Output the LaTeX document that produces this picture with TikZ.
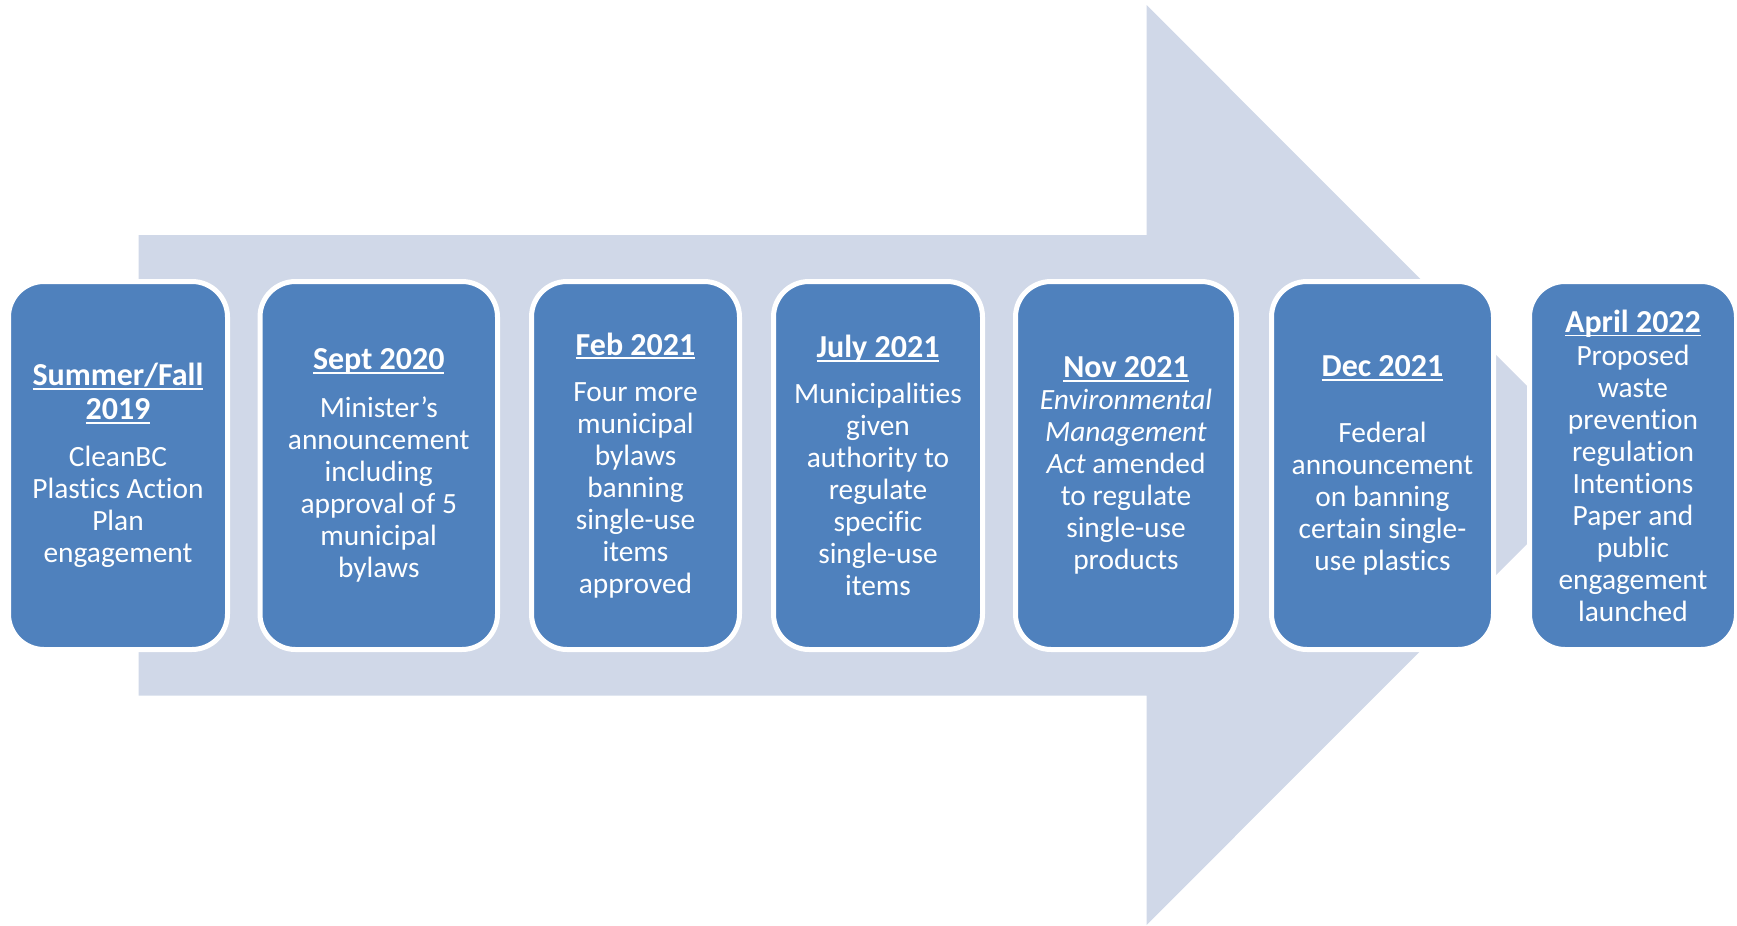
\documentclass[tikz,border=0pt]{standalone}
\usepackage{fontspec}
\setmainfont{Carlito}[Ligatures={NoCommon}]
\definecolor{boxblue}{HTML}{4F81BD}
\definecolor{arrowgray}{HTML}{D0D8E8}
\newcommand\hdul[1]{\setbox0\hbox{#1}\rlap{\rule[-2.1pt]{\wd0}{0.9pt}}\box0}
\newcommand\hd[1]{{\fontsize{16}{16}\selectfont\bfseries\hdul{#1}}}
\begin{document}
\begin{tikzpicture}[x=0.5pt,y=-0.5pt,
  box/.style={rectangle, rounded corners=17.75pt, fill=boxblue, draw=white,
    line width=2.5pt, text=white, align=center, inner sep=0pt,
    minimum height=184pt, font=\fontsize{14.7}{16}\selectfont}]
\useasboundingbox (0,0) rectangle (1737,926);
% big background arrow
\fill[arrowgray] (138.5,235) -- (1146.6,235) -- (1146.6,5) -- (1606,465)
  -- (1146.6,925) -- (1146.6,695.5) -- (138.5,695.5) -- cycle;
% timeline boxes
\node[box, minimum width=109.5pt] (s19) at (118,465.5)
  {\hd{Summer/Fall}\\[1pt]\hd{2019}\\[7.3pt]CleanBC\\Plastics Action\\Plan\\engagement};
\node[box, minimum width=118.75pt] (s20) at (378.75,465.5)
  {\hd{Sept 2020}\\[8pt]Minister’s\\announcement\\including\\approval of 5\\municipal\\bylaws};
\node[box, minimum width=104pt] (f21) at (635.5,465.5)
  {\hd{Feb 2021}\\[7.3pt]Four more\\municipal\\bylaws\\banning\\single-use\\items\\approved};
\node[box, minimum width=104.5pt] (j21) at (878,465.5)
  {\hd{July 2021}\\[7.3pt]Municipalities\\given\\authority to\\regulate\\specific\\single-use\\items};
\node[box, minimum width=110.5pt] (n21) at (1126,465.5)
  {\hd{Nov 2021}\\\textit{Environmental}\\\textit{Management}\\\textit{Act} amended\\to regulate\\single-use\\products};
\node[box, minimum width=111pt] (d21) at (1382.5,465.5)
  {\hd{Dec 2021}\\[17pt]Federal\\announcement\\on banning\\certain single-\\use plastics};
\node[box, minimum width=103.5pt] (a22) at (1633,465.5)
  {\hd{April 2022}\\[0.5pt]Proposed\\waste\\prevention\\regulation\\Intentions\\Paper and\\public\\engagement\\launched};
\end{tikzpicture}
\end{document}
